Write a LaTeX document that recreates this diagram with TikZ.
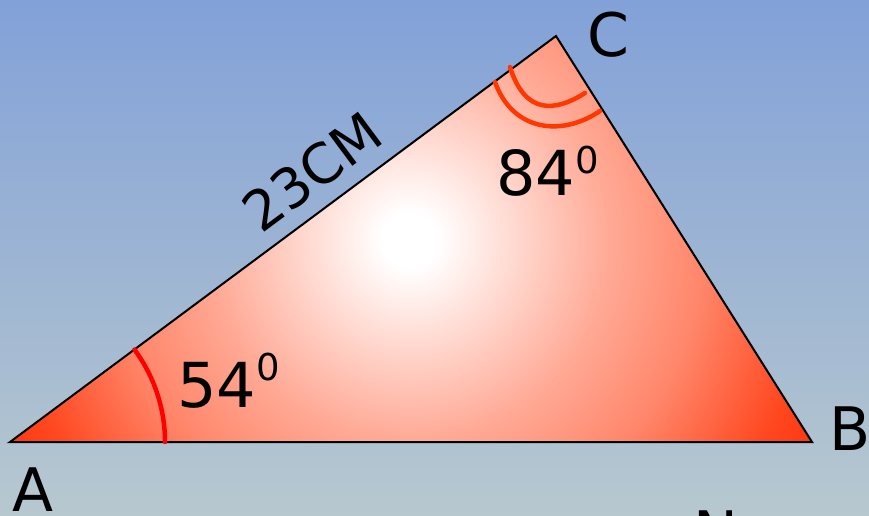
\documentclass[tikz,border=0pt]{standalone}
\usepackage{fontspec}
\setmainfont{DejaVu Sans}
\definecolor{bgtop}{RGB}{130,161,216}
\definecolor{bgbot}{RGB}{183,200,207}
\definecolor{edgered}{RGB}{255,52,12}
\definecolor{g1}{RGB}{255,168,148}
\definecolor{g2}{RGB}{255,134,106}
\definecolor{g3}{RGB}{255,72,32}
\definecolor{arcred}{RGB}{255,0,0}
\definecolor{arcorange}{RGB}{255,55,0}
\pgfdeclareradialshading{trishade}{\pgfpoint{0bp}{0bp}}{%
  color(0bp)=(white); color(1.5bp)=(white); color(11bp)=(g1);
  color(16bp)=(g2); color(22bp)=(g3); color(25bp)=(edgered); color(50bp)=(edgered)}
\tikzset{
  lbl/.style={font=\fontsize{60}{60}\selectfont, inner sep=0pt, text=black},
  anglbl/.style={font=\fontsize{62}{62}\selectfont, inner sep=0pt, anchor=base west},
  anglearc/.style={line width=4.5pt, line cap=round},
}
\begin{document}
\begin{tikzpicture}[x=1pt,y=-1pt]
\useasboundingbox (0,0) rectangle (869,516);
\shade[top color=bgtop, bottom color=bgbot] (0,0) rectangle (869,516);
\coordinate (A) at (10,442);
\coordinate (B) at (812,442);
\coordinate (C) at (556,36);
\coordinate (G) at (410,240);
\begin{scope}
  \clip (A) -- (B) -- (C) -- cycle;
  \shade[shading=trishade] (G) circle[radius=460];
\end{scope}
\draw[line width=2pt, line join=miter] (A) -- (B) -- (C) -- cycle;
% angle marks
\draw[anglearc, arcred] ([shift={(0:155)}]A) arc[start angle=0, end angle=-36.6, radius=155];
\coordinate (c1s) at (510,67);
\coordinate (c1e) at (585,93);
\coordinate (c2s) at (495,82);
\coordinate (c2e) at (600,111);
\draw[anglearc, arcorange] (c1s) .. controls (525,115) and (555,112) .. (c1e);
\draw[anglearc, arcorange] (c2s) .. controls (512,130) and (560,138) .. (c2e);
% labels
\node[lbl] (lC) at (608,35) {C};
\node[lbl] (lB) at (850,429) {B};
\node[lbl] (lA) at (33,490) {A};
\node[lbl, anchor=north] (lN) at (716,511) {N};
\node[anglbl] (a54) at (177,407) {54\raisebox{27pt}{\fontsize{37}{37}\selectfont 0}};
\node[anglbl] (a84) at (496,195) {84\raisebox{22pt}{\fontsize{37}{37}\selectfont 0}};
\node[lbl, font=\fontsize{55}{55}\selectfont, rotate=36.6] (len) at (312,172) {23CM};
\end{tikzpicture}
\end{document}
